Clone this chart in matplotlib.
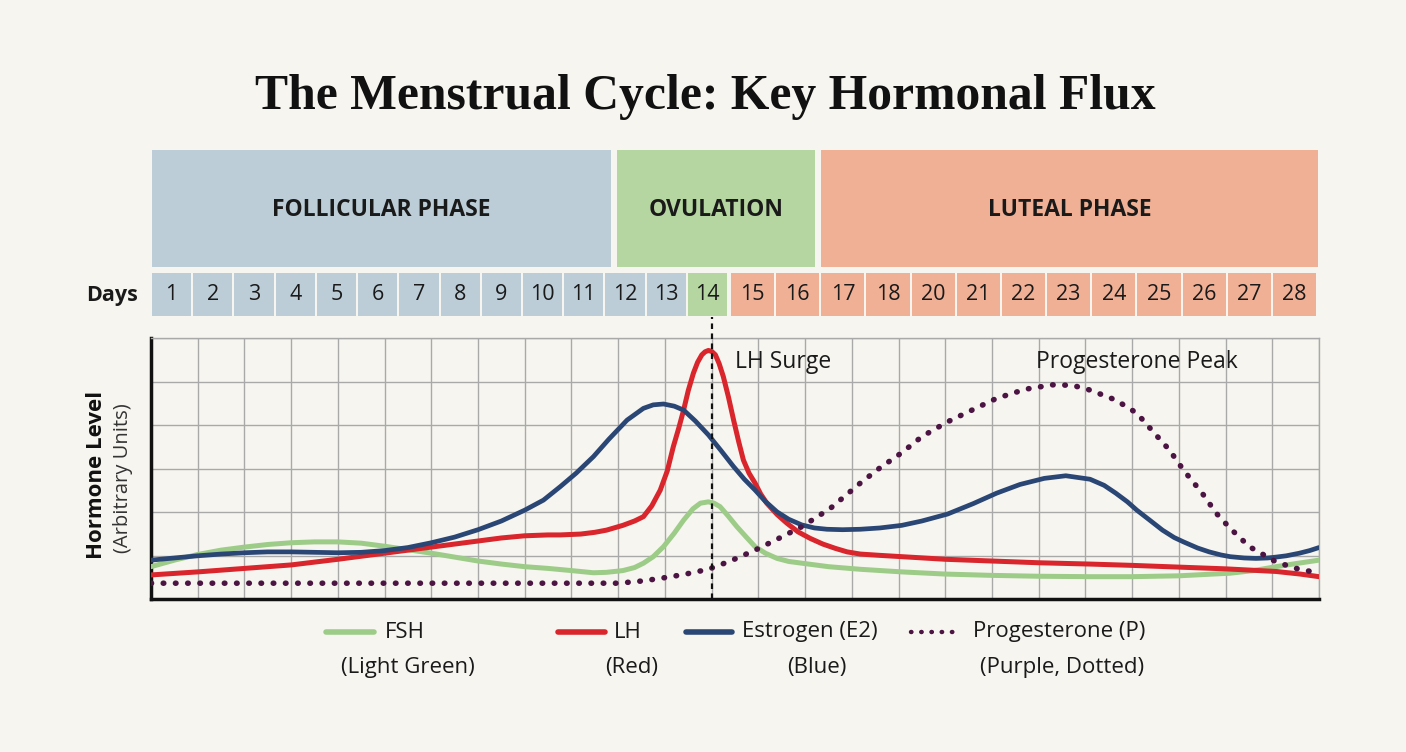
# Menstrual cycle hormone chart
import matplotlib.pyplot as plt
from matplotlib.patches import Rectangle

# --- data ------------------------------------------------------------------
phases = ["FOLLICULAR PHASE", "OVULATION", "LUTEAL PHASE"]
day_labels_left = ["1", "2", "3", "4", "5", "6", "7", "8", "9", "10", "11", "12", "13", "14"]
day_labels_right = ["15", "16", "17", "18", "20", "21", "22", "23", "24", "25", "26", "27", "28"]

fsh_x = [0, 0.5, 1, 1.5, 2, 2.5, 3, 3.5, 4, 4.5, 5, 5.5, 6, 6.5, 7, 7.5, 8, 8.5, 9, 9.47, 9.75,
         10.1, 10.35, 10.54, 10.75, 10.97, 11.2, 11.4, 11.6, 11.76, 11.93, 12.05, 12.18, 12.35,
         12.54, 12.75, 12.93, 13.15, 13.4, 13.65, 13.93, 14.5, 15.18, 16.07, 17, 18, 19, 20.1,
         21, 22, 23.1, 23.6, 24.08, 24.5, 25]
fsh_y = [0.75, 0.9, 1.03, 1.13, 1.2, 1.26, 1.3, 1.32, 1.32, 1.29, 1.22, 1.14, 1.06, 0.97, 0.88,
         0.81, 0.75, 0.71, 0.66, 0.61, 0.62, 0.66, 0.73, 0.83, 0.98, 1.21, 1.52, 1.82, 2.08, 2.21,
         2.24, 2.21, 2.13, 1.92, 1.67, 1.42, 1.21, 1.06, 0.94, 0.87, 0.83, 0.75, 0.69, 0.63, 0.58,
         0.55, 0.53, 0.52, 0.52, 0.54, 0.6, 0.66, 0.75, 0.82, 0.9]

lh_x = [0, 1, 2, 3, 4, 5, 6, 7, 7.5, 8, 8.5, 8.76, 9.2, 9.5, 9.75, 10.1, 10.35, 10.54, 10.72,
        10.9, 11.05, 11.18, 11.3, 11.4, 11.5, 11.61, 11.7, 11.79, 11.86, 11.93, 12.0, 12.08,
        12.16, 12.25, 12.36, 12.47, 12.58, 12.68, 12.8, 12.93, 13.05, 13.18, 13.4, 13.61, 13.85,
        14.11, 14.38, 14.65, 14.9, 15.18, 15.6, 16.07, 17, 18, 19, 20.1, 21, 22, 23, 24.08,
        24.6, 25]
lh_y = [0.56, 0.63, 0.71, 0.79, 0.92, 1.06, 1.2, 1.34, 1.41, 1.46, 1.48, 1.48, 1.5, 1.54, 1.59,
        1.7, 1.8, 1.9, 2.15, 2.51, 2.95, 3.51, 3.95, 4.35, 4.8, 5.2, 5.45, 5.62, 5.69, 5.72, 5.7,
        5.62, 5.42, 5.12, 4.65, 4.12, 3.62, 3.2, 2.9, 2.67, 2.42, 2.21, 1.95, 1.75, 1.55, 1.4,
        1.27, 1.17, 1.09, 1.04, 1.01, 0.98, 0.92, 0.88, 0.84, 0.81, 0.78, 0.74, 0.7, 0.64, 0.58,
        0.52]

e2_x = [0, 0.5, 1, 1.5, 2, 2.5, 3, 3.5, 4, 4.5, 5, 5.5, 6, 6.5, 7, 7.5, 8, 8.4, 8.76, 9.1, 9.47,
        9.8, 10.19, 10.54, 10.75, 10.97, 11.2, 11.4, 11.65, 11.93, 12.2, 12.47, 12.7, 12.93,
        13.15, 13.4, 13.65, 13.93, 14.2, 14.47, 14.8, 15.18, 15.6, 16.07, 16.5, 17.05, 17.6,
        18.1, 18.6, 19.12, 19.58, 20.1, 20.4, 20.65, 20.9, 21.1, 21.4, 21.65, 21.9, 22.1, 22.4,
        22.65, 22.9, 23.1, 23.4, 23.65, 23.9, 24.08, 24.3, 24.58, 24.8, 25]
e2_y = [0.9, 0.95, 1.0, 1.04, 1.07, 1.09, 1.09, 1.08, 1.07, 1.08, 1.12, 1.19, 1.3, 1.43, 1.6,
        1.8, 2.05, 2.28, 2.59, 2.9, 3.28, 3.68, 4.12, 4.39, 4.47, 4.49, 4.44, 4.35, 4.1, 3.78,
        3.42, 3.05, 2.76, 2.51, 2.25, 2.01, 1.84, 1.71, 1.64, 1.61, 1.6, 1.61, 1.64, 1.7, 1.8,
        1.96, 2.2, 2.44, 2.64, 2.78, 2.84, 2.76, 2.62, 2.44, 2.24, 2.05, 1.8, 1.59, 1.42, 1.32,
        1.18, 1.09, 1.02, 0.98, 0.95, 0.94, 0.95, 0.97, 1.0, 1.06, 1.12, 1.19]

p_x = [0, 2, 4, 6, 8, 10, 10.5, 10.9, 11.4, 11.93, 12.4, 12.93, 13.4, 13.93, 14.54, 15.18, 15.6,
       16.07, 16.5, 17.05, 17.65, 18.1, 18.72, 19.29, 19.72, 20.1, 20.65, 21.1, 21.51, 21.8,
       22.1, 22.5, 22.8, 23.1, 23.51, 24.08, 24.51, 25]
p_y = [0.37, 0.37, 0.37, 0.37, 0.37, 0.37, 0.42, 0.48, 0.57, 0.69, 0.88, 1.13, 1.38, 1.67, 2.09,
       2.67, 3.02, 3.37, 3.74, 4.08, 4.39, 4.62, 4.83, 4.93, 4.92, 4.81, 4.58, 4.28, 3.78, 3.43,
       2.97, 2.44, 1.98, 1.63, 1.21, 0.86, 0.71, 0.6]

ovulation_day_x = 12

# --- styles ----------------------------------------------------------------
BG = "#f7f5ef"
C_FSH = "#9dcc88"
C_LH = "#d9252c"
C_E2 = "#2a4675"
C_P = "#4b1443"
PH_BLUE = "#bccdd8"
PH_GREEN = "#b5d6a1"
PH_SALMON = "#efb096"
SANS = ["Open Sans", "Noto Sans", "DejaVu Sans"]

W, H = 1406, 752
fig = plt.figure(figsize=(W / 100, H / 100), dpi=100, facecolor=BG)

# overlay axes in pixel coordinates for header / legend
ov = fig.add_axes([0, 0, 1, 1])
ov.set_xlim(0, W)
ov.set_ylim(H, 0)
ov.axis("off")
ov.patch.set_alpha(0)

ov.text(705, 97, "The Menstrual Cycle: Key Hormonal Flux", ha="center", va="center",
        family="Liberation Serif", weight="bold", fontsize=35.7, color="#111111")

# phase bars
phase_spans = [(152, 611, PH_BLUE), (617, 815, PH_GREEN), (821, 1318, PH_SALMON)]
for name, (x0, x1, c) in zip(phases, phase_spans):
    ov.add_patch(Rectangle((x0, 150), x1 - x0, 117, color=c, lw=0))
    ov.text((x0 + x1) / 2, 210, name, ha="center", va="center", family=SANS,
            fontsize=16.5, weight="bold", color="#1a1a1a")

# day cells
ov.text(112, 295, "Days", ha="center", va="center", family=SANS, fontsize=15.5,
        weight="bold", color="#1a1a1a")
pitch_l = (729 - 152) / len(day_labels_left)
for i, lab in enumerate(day_labels_left):
    x0 = 152 + i * pitch_l
    c = PH_GREEN if lab == "14" else PH_BLUE
    ov.add_patch(Rectangle((x0, 273), pitch_l - 2, 43, color=c, lw=0))
    ov.text(x0 + pitch_l / 2 - 1, 295, lab, ha="center", va="center", family=SANS,
            fontsize=15.5, color="#1a1a1a")
pitch_r = (1318 - 731) / len(day_labels_right)
for i, lab in enumerate(day_labels_right):
    x0 = 731 + i * pitch_r
    ov.add_patch(Rectangle((x0, 273), pitch_r - 2, 43, color=PH_SALMON, lw=0))
    ov.text(x0 + pitch_r / 2 - 1, 295, lab, ha="center", va="center", family=SANS,
            fontsize=15.5, color="#1a1a1a")

# y label
ov.text(97, 475, "Hormone Level", rotation=90, ha="center", va="center", family=SANS,
        fontsize=16, weight="bold", color="#111111")
ov.text(123, 478, "(Arbitrary Units)", rotation=90, ha="center", va="center", family=SANS,
        fontsize=14.5, color="#333333")

# legend (drawn by hand: handle + two-line label)
legend_items = [
    (326, 374, C_FSH, "-", "FSH", 385, "(Light Green)", 408),
    (558, 605, C_LH, "-", "LH", 614, "(Red)", 632),
    (686, 732, C_E2, "-", "Estrogen (E2)", 742, "(Blue)", 817),
    (911, 960, C_P, ":", "Progesterone (P)", 973, "(Purple, Dotted)", 1062),
]
for x0, x1, c, ls, lab1, tx, lab2, cx in legend_items:
    if ls == "-":
        ov.plot([x0, x1], [632, 632], color=c, lw=4, solid_capstyle="round")
    else:
        ov.plot([x0, x1], [632, 632], color=c, lw=3.2, linestyle=(0, (0.1, 2.2)),
                dash_capstyle="round")
    ov.text(tx, 632, lab1, ha="left", va="center", family=SANS, fontsize=16, color="#1a1a1a")
    ov.text(cx, 667, lab2, ha="center", va="center", family=SANS, fontsize=16, color="#1a1a1a")

# --- main chart -------------------------------------------------------------
ax = fig.add_axes([151 / W, (H - 599.3) / H, (1319 - 151) / W, (599.3 - 338.3) / H])
ax.set_facecolor("none")
ax.set_zorder(2)
ax.set_xlim(0, 25)
ax.set_ylim(0, 6)
ax.set_xticks(range(0, 26))
ax.set_yticks(range(0, 7))
ax.grid(True, color="#a9a9a9", lw=1)
ax.tick_params(length=0, labelbottom=False, labelleft=False)
for s in ["top", "right"]:
    ax.spines[s].set_color("#a9a9a9")
    ax.spines[s].set_linewidth(1)
for s in ["left", "bottom"]:
    ax.spines[s].set_color("#111111")
    ax.spines[s].set_linewidth(2.5)

ax.plot(fsh_x, fsh_y, color=C_FSH, lw=3.6, solid_capstyle="round", solid_joinstyle="round", zorder=3)
ax.plot(lh_x, lh_y, color=C_LH, lw=3.6, solid_capstyle="round", solid_joinstyle="round", zorder=4)
ax.plot(e2_x, e2_y, color=C_E2, lw=3.4, solid_capstyle="round", solid_joinstyle="round", zorder=4)
ax.plot(p_x, p_y, color=C_P, lw=4, linestyle=(0, (0.1, 2.1)), dash_capstyle="round", zorder=4)

ax.plot([ovulation_day_x, ovulation_day_x], [0, 6.5], color="#111111", lw=1.6,
        linestyle=(0, (2.5, 2)), clip_on=False, zorder=5)

ax.text(12.5, 5.45, "LH Surge", ha="left", va="center", family=SANS, fontsize=16.5,
        color="#1a1a1a")
ax.text(18.95, 5.45, "Progesterone Peak", ha="left", va="center", family=SANS, fontsize=16.5,
        color="#1a1a1a")

fig.savefig("out.png", dpi=100, facecolor=BG)
